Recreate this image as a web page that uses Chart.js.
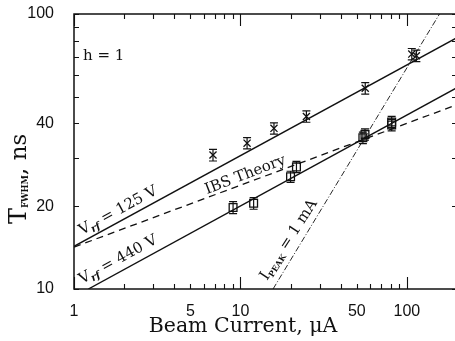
<!DOCTYPE html>
<html><head><meta charset="utf-8">
<script src="https://cdn.jsdelivr.net/npm/chart.js@4/dist/chart.umd.min.js"></script>
<style>html,body{margin:0;padding:0;background:#fff;overflow:hidden}canvas{display:block}</style>
</head><body>
<canvas id="c" width="457" height="341"></canvas>
<script>
// tick labels
const xTickLabels = [1, 5, 10, 50, 100];
const yTickLabels = [10, 20, 40, 100];
// measured points, V_rf = 125 V (X markers)
const x125 = [6.84, 10.96, 15.9, 24.9, 56.2, 107, 114];
const y125 = [30.7, 33.9, 38.4, 42.4, 53.7, 71.5, 70.5];
const e125 = [1.5, 1.6, 1.8, 2.0, 2.6, 3.4, 3.4];
// measured points, V_rf = 440 V (square markers)
const x440 = [9.03, 12.0, 20.0, 21.7, 54.4, 56, 81, 81];
const y440 = [19.8, 20.5, 25.6, 27.8, 35.5, 36.5, 39.5, 40.5];
const e440 = [1.0, 1.0, 1.2, 1.3, 1.7, 1.7, 1.9, 1.9];
// fitted / theory line end points
const fit125X = [1, 200], fit125Y = [14.3, 82];
const fit440X = [1.22, 200], fit440Y = [10, 54];
const ibsX = [1, 200], ibsY = [14.2, 46.8];
const ipeakX = [15.7, 157], ipeakY = [10, 100];

const pts = (xs, ys) => xs.map((x, i) => ({x, y: ys[i]}));
const INK = '#111';
const SERIF = '"DejaVu Serif", serif';
const AREA = {left: 74, top: 14, right: 457, bottom: 289};

const bgPlugin = {
  id: 'bg',
  beforeDraw(chart) {
    const c = chart.ctx; c.save(); c.fillStyle = '#fff';
    c.fillRect(0, 0, chart.width, chart.height); c.restore();
  }
};

const errPlugin = {
  id: 'errbars',
  afterDatasetsDraw(chart) {
    const c = chart.ctx, xs = chart.scales.x, ys = chart.scales.y;
    c.save(); c.strokeStyle = INK; c.lineWidth = 1.2;
    chart.data.datasets.forEach(ds => {
      if (!ds.errors) return;
      ds.data.forEach((p, i) => {
        const px = xs.getPixelForValue(p.x);
        const top = ys.getPixelForValue(p.y + ds.errors[i]);
        const bot = ys.getPixelForValue(p.y - ds.errors[i]);
        c.beginPath();
        c.moveTo(px, top); c.lineTo(px, bot);
        c.moveTo(px - 4, top); c.lineTo(px + 4, top);
        c.moveTo(px - 4, bot); c.lineTo(px + 4, bot);
        c.stroke();
      });
    });
    c.restore();
  }
};

const framePlugin = {
  id: 'frame',
  afterDraw(chart) {
    const c = chart.ctx, a = chart.chartArea, xs = chart.scales.x, ys = chart.scales.y;
    c.save(); c.strokeStyle = INK; c.lineWidth = 1.5;
    c.strokeRect(a.left, a.top, a.right - a.left, a.bottom - a.top);
    c.lineWidth = 1.1;
    c.beginPath();
    [1, 10, 100].forEach(d => {
      for (let m = 1; m <= 9; m++) {
        const v = m * d; if (v < 1 || v > 200) continue;
        const px = Math.round(xs.getPixelForValue(v)) + 0.5;
        const L = m === 1 ? 12 : 5;
        c.moveTo(px, a.bottom); c.lineTo(px, a.bottom - L);
        c.moveTo(px, a.top); c.lineTo(px, a.top + L);
      }
    });
    [10, 100].forEach(d => {
      for (let m = 1; m <= 9; m++) {
        const v = m * d; if (v > 100) continue;
        const py = Math.round(ys.getPixelForValue(v)) + 0.5;
        c.moveTo(a.left, py); c.lineTo(a.left + 5, py);
        c.moveTo(a.right, py); c.lineTo(a.right - 5, py);
      }
    });
    c.stroke();
    c.restore();
  }
};

function rich(c, x, y, deg, parts) {
  c.save(); c.translate(x, y); c.rotate(-deg * Math.PI / 180);
  c.fillStyle = INK; c.textBaseline = 'alphabetic'; c.textAlign = 'left';
  let cx = 0;
  parts.forEach(p => {
    c.font = p.font; c.fillText(p.t, cx, p.dy || 0);
    cx += c.measureText(p.t).width;
  });
  c.restore();
}

const textPlugin = {
  id: 'texts',
  afterDraw(chart) {
    const c = chart.ctx;
    const big = '15px ' + SERIF, sub = 'italic bold 10px ' + SERIF;
    rich(c, 83, 59.5, 0, [{t: 'h = 1', font: '15px ' + SERIF}]);
    rich(c, 82, 235, 28.6, [{t: 'V', font: big}, {t: 'rf', font: sub, dy: 3}, {t: ' = 125 V', font: big}]);
    rich(c, 82, 284, 28.6, [{t: 'V', font: big}, {t: 'rf', font: sub, dy: 3}, {t: ' = 440 V', font: big}]);
    rich(c, 207, 194, 21, [{t: 'IBS Theory', font: big}]);
    rich(c, 267, 281, 57, [{t: 'I', font: big}, {t: 'PEAK', font: 'bold 8px ' + SERIF, dy: 3}, {t: ' = 1 mA', font: big}]);
    // axis titles
    rich(c, 26, 224, 90, [{t: 'T', font: '24px ' + SERIF}, {t: 'FWHM', font: 'bold 8.5px ' + SERIF, dy: 2}, {t: ', ns', font: '23px ' + SERIF}]);
    c.save(); c.font = '20.5px ' + SERIF; c.fillStyle = INK; c.textAlign = 'center';
    c.fillText('Beam Current, \u03bcA', 243, 332); c.restore();
  }
};

function zeroPad(s) { s.paddingLeft = 0; s.paddingRight = 0; s.paddingTop = 0; s.paddingBottom = 0; }

const chart = new Chart(document.getElementById('c'), {
  type: 'scatter',
  data: {
    datasets: [
      {data: pts(fit125X, fit125Y), showLine: true, borderColor: INK, borderWidth: 1.4, pointRadius: 0},
      {data: pts(fit440X, fit440Y), showLine: true, borderColor: INK, borderWidth: 1.4, pointRadius: 0},
      {data: pts(ibsX, ibsY), showLine: true, borderColor: INK, borderWidth: 1.3, borderDash: [7, 5], pointRadius: 0},
      {data: pts(ipeakX, ipeakY), showLine: true, borderColor: INK, borderWidth: 0.9, borderDash: [6, 2, 1, 2], pointRadius: 0},
      {data: pts(x125, y125), errors: e125, pointStyle: 'crossRot', pointRadius: 5, borderColor: INK, borderWidth: 1.3},
      {data: pts(x440, y440), errors: e440, pointStyle: 'rect', pointRadius: 5.5, borderColor: INK, backgroundColor: 'rgba(0,0,0,0)', borderWidth: 1.3}
    ]
  },
  options: {
    responsive: false, animation: false, devicePixelRatio: 1,
    layout: {autoPadding: false, padding: {top: 14, right: 0, left: 0, bottom: 0}},
    plugins: {legend: {display: false}, tooltip: {enabled: false}},
    scales: {
      x: {
        type: 'logarithmic', position: 'bottom', min: 1, max: 200,
        grid: {display: false}, border: {display: false},
        afterBuildTicks: s => { s.ticks = xTickLabels.map(v => ({value: v})); },
        afterFit: s => { s.height = 52; zeroPad(s); },
        ticks: {autoSkip: false, maxRotation: 0, padding: 5, color: INK,
          font: {family: '"Liberation Sans", sans-serif', size: 16},
          callback: v => String(v)}
      },
      y: {
        type: 'logarithmic', position: 'left', min: 10, max: 100,
        grid: {display: false}, border: {display: false},
        afterBuildTicks: s => { s.ticks = yTickLabels.map(v => ({value: v})); },
        afterFit: s => { s.width = 74; zeroPad(s); },
        ticks: {autoSkip: false, padding: 12, color: INK,
          font: {family: '"Liberation Sans", sans-serif', size: 16},
          callback: v => String(v)}
      }
    }
  },
  plugins: [bgPlugin, errPlugin, framePlugin, textPlugin]
});
// nudge layout padding so the plot area lands where the reference has it
for (let k = 0; k < 3; k++) {
  const a = chart.chartArea, p = chart.options.layout.padding;
  const np = {
    top: p.top + (AREA.top - a.top),
    left: p.left + (AREA.left - a.left),
    right: p.right + (a.right - AREA.right),
    bottom: p.bottom + (a.bottom - AREA.bottom)
  };
  if (np.top === p.top && np.left === p.left && np.right === p.right && np.bottom === p.bottom) break;
  chart.options.layout.padding = np;
  chart.update();
}
</script>
</body></html>
